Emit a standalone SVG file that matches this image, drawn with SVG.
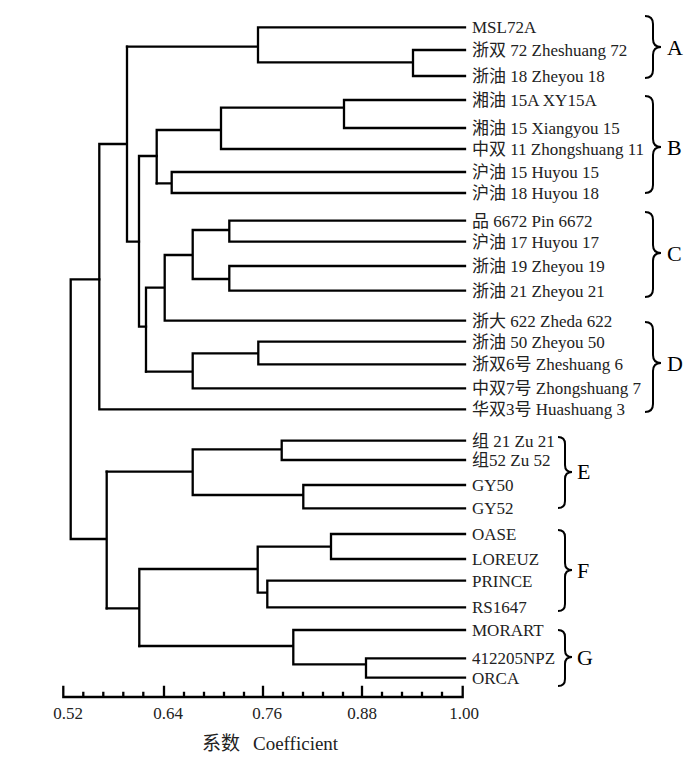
<svg xmlns="http://www.w3.org/2000/svg" width="700" height="757" viewBox="0 0 700 757">
<style>
.ln{fill:none;stroke:#000;stroke-width:2.3;stroke-linecap:square;stroke-linejoin:miter}
.br{fill:none;stroke:#000;stroke-width:2}
.lb{font-family:"Liberation Serif","Noto Sans CJK SC",serif;font-size:17px;fill:#222}
.gl{font-family:"Liberation Serif",serif;font-size:22px;fill:#000}
.tk{font-family:"Liberation Serif",serif;font-size:17px;fill:#222;text-anchor:middle}
.ax{font-family:"Liberation Serif","Noto Sans CJK SC",serif;font-size:19px;fill:#222}
</style>
<rect width="700" height="757" fill="#fff"/>
<g id="connectors" class="ln">
<path d="M465 27.3H258V62.3H413M465 50H413V76H465M258 46.7H127"/>
<path d="M127 46.7V241.7H139M127 144H99.3V409.3H465"/>
<path d="M156.7 156H139V326.7H146"/>
<path d="M156.7 130V183.3M156.7 130H221M221 107.7V149H465M221 107.7H344M465 100H344V128H465"/>
<path d="M156.7 183.3H171.7M465 172H171.7V193H465"/>
<path d="M146 287.7V371.7M146 287.7H164.7M164.7 255V320.7H465M164.7 255H192.7M192.7 230V279M192.7 230H229.3M465 220.7H229.3V241.7H465M192.7 279H229.3M465 266H229.3V290.7H465"/>
<path d="M146 371.7H192.7M192.7 353.3V388.3H465M192.7 353.3H258.3M465 341.7H258.3V364.3H465"/>
<path d="M99.3 279.3H70.7V539H106.7M106.7 471.7V608.3"/>
<path d="M106.7 471.7H192.7M192.7 449.3V495M192.7 449.3H281.7M465 440.7H281.7V460H465M192.7 495H303.3M465 485H303.3V508.3H465"/>
<path d="M106.7 608.3H139.3M139.3 569V646M139.3 569H257.7M257.7 546.7V592.7M257.7 546.7H331M465 534H331V559H465M257.7 592.7H267.3M465 580.7H267.3V607.3H465"/>
<path d="M139.3 646H293.3M293.3 630V664.3M293.3 630H465M293.3 664.3H366M465 658.3H366V677.7H465"/>
</g>
<g id="leaves" class="lb">
<text id="l1" x="472" y="33.3">MSL72A</text>
<text id="l2" x="472" y="56">浙双 72 Zheshuang 72</text>
<text id="l3" x="472" y="82">浙油 18 Zheyou 18</text>
<text id="l4" x="472" y="106">湘油 15A XY15A</text>
<text id="l5" x="472" y="134">湘油 15 Xiangyou 15</text>
<text id="l6" x="472" y="155">中双 11 Zhongshuang 11</text>
<text id="l7" x="472" y="178">沪油 15 Huyou 15</text>
<text id="l8" x="472" y="199">沪油 18 Huyou 18</text>
<text id="l9" x="472" y="226.7">品 6672 Pin 6672</text>
<text id="l10" x="472" y="247.7">沪油 17 Huyou 17</text>
<text id="l11" x="472" y="272">浙油 19 Zheyou 19</text>
<text id="l12" x="472" y="296.7">浙油 21 Zheyou 21</text>
<text id="l13" x="472" y="326.7">浙大 622 Zheda 622</text>
<text id="l14" x="472" y="347.7">浙油 50 Zheyou 50</text>
<text id="l15" x="472" y="370.3">浙双6号 Zheshuang 6</text>
<text id="l16" x="472" y="394.3">中双7号 Zhongshuang 7</text>
<text id="l17" x="472" y="415.3">华双3号 Huashuang 3</text>
<text id="l18" x="472" y="446.7">组 21 Zu 21</text>
<text id="l19" x="472" y="466">组52 Zu 52</text>
<text id="l20" x="472" y="491">GY50</text>
<text id="l21" x="472" y="514.3">GY52</text>
<text id="l22" x="472" y="540">OASE</text>
<text id="l23" x="472" y="565">LOREUZ</text>
<text id="l24" x="472" y="586.7">PRINCE</text>
<text id="l25" x="472" y="613.3">RS1647</text>
<text id="l26" x="472" y="636">MORART</text>
<text id="l27" x="472" y="664.3">412205NPZ</text>
<text id="l28" x="472" y="683.7">ORCA</text>
</g>
<g id="groupA"><path class="br" d="M645 16Q653 16 653 24V39Q653 47 661 47Q653 47 653 55V70Q653 78 645 78"/><text class="gl" x="667" y="55">A</text></g>
<g id="groupB"><path class="br" d="M645 96Q653 96 653 104V139Q653 147 661 147Q653 147 653 155V185Q653 193 645 193"/><text class="gl" x="667" y="155">B</text></g>
<g id="groupC"><path class="br" d="M645 212Q653 212 653 220V245Q653 253 661 253Q653 253 653 261V289Q653 297 645 297"/><text class="gl" x="667" y="261">C</text></g>
<g id="groupD"><path class="br" d="M645 322Q653 322 653 330V355Q653 363 661 363Q653 363 653 371V404Q653 412 645 412"/><text class="gl" x="667" y="371">D</text></g>
<g id="groupE"><path class="br" d="M558 437Q565 437 565 444V465Q565 472 572 472Q565 472 565 479V501Q565 508 558 508"/><text class="gl" x="577" y="479">E</text></g>
<g id="groupF"><path class="br" d="M558 530Q565 530 565 537V563Q565 570 572 570Q565 570 565 577V604Q565 611 558 611"/><text class="gl" x="577" y="578">F</text></g>
<g id="groupG"><path class="br" d="M558 630Q565 630 565 637V650Q565 657 572 657Q565 657 565 664V679Q565 686 558 686"/><text class="gl" x="577" y="665">G</text></g>
<g id="axis">
<path class="ln" d="M63.3 687V697H462.7V687M164 687V697M263 687V697M362 687V697M83.3 693V697M103.3 693V697M123.3 693V697M143.3 693V697M184 693V697M204 693V697M224 693V697M244 693V697M283 693V697M303 693V697M323 693V697M343 693V697M382 693V697M402 693V697M422 693V697M442 693V697"/>
<text class="tk" x="68" y="719">0.52</text>
<text class="tk" x="168" y="719">0.64</text>
<text class="tk" x="267" y="719">0.76</text>
<text class="tk" x="362" y="719">0.88</text>
<text class="tk" x="464" y="719">1.00</text>
<text class="ax" x="202" y="750">系数<tspan x="253">Coefficient</tspan></text>
</g>
</svg>
